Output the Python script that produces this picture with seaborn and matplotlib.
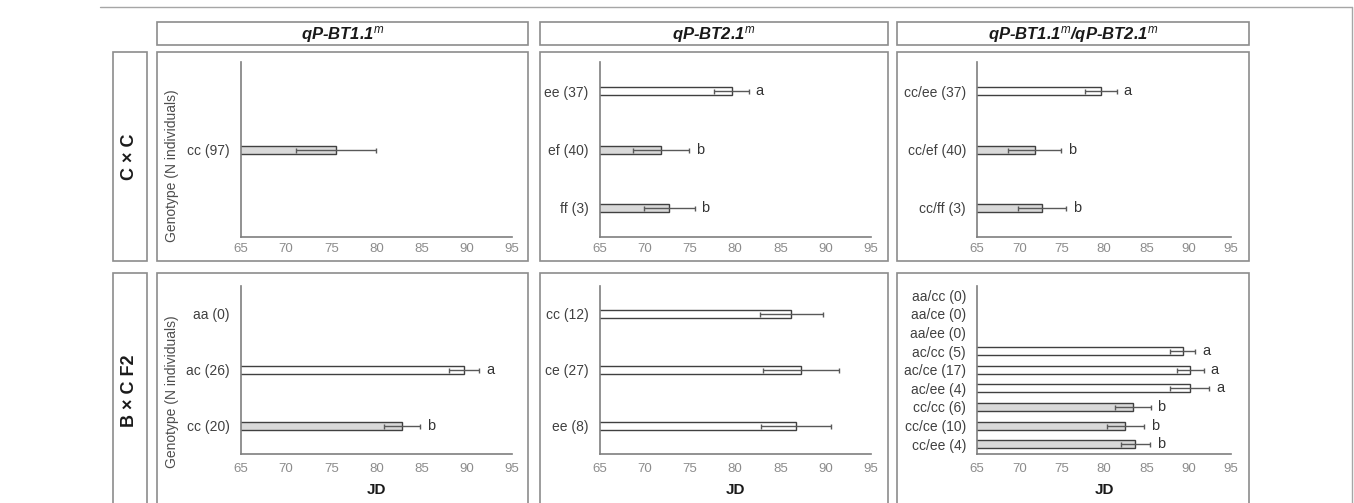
import matplotlib
matplotlib.use("Agg")
import matplotlib.pyplot as plt
import seaborn as sns
import pandas as pd
from matplotlib.patches import Rectangle

# ---- data (JD mean, error, significance letter); None = no individuals ----
cxc_bt1_labels = ["cc (97)"]
cxc_bt1_mean = [75.5]
cxc_bt1_err = [4.4]
cxc_bt1_letter = [""]

cxc_bt2_labels = ["ee (37)", "ef (40)", "ff (3)"]
cxc_bt2_mean = [79.6, 71.8, 72.7]
cxc_bt2_err = [1.9, 3.1, 2.8]
cxc_bt2_letter = ["a", "b", "b"]

cxc_both_labels = ["cc/ee (37)", "cc/ef (40)", "cc/ff (3)"]
cxc_both_mean = [79.6, 71.8, 72.7]
cxc_both_err = [1.9, 3.1, 2.8]
cxc_both_letter = ["a", "b", "b"]

bxc_bt1_labels = ["aa (0)", "ac (26)", "cc (20)"]
bxc_bt1_mean = [None, 89.7, 82.8]
bxc_bt1_err = [None, 1.7, 2.0]
bxc_bt1_letter = ["", "a", "b"]

bxc_bt2_labels = ["cc (12)", "ce (27)", "ee (8)"]
bxc_bt2_mean = [86.2, 87.3, 86.7]
bxc_bt2_err = [3.5, 4.2, 3.9]
bxc_bt2_letter = ["", "", ""]

bxc_both_labels = ["aa/cc (0)", "aa/ce (0)", "aa/ee (0)", "ac/cc (5)", "ac/ce (17)",
                   "ac/ee (4)", "cc/cc (6)", "cc/ce (10)", "cc/ee (4)"]
bxc_both_mean = [None, None, None, 89.3, 90.2, 90.1, 83.4, 82.5, 83.7]
bxc_both_err = [None, None, None, 1.5, 1.6, 2.3, 2.1, 2.2, 1.7]
bxc_both_letter = ["", "", "", "a", "a", "a", "b", "b", "b"]

col_titles = [r"qP-BT1.1$^{m}$", r"qP-BT2.1$^{m}$", r"qP-BT1.1$^{m}$/qP-BT2.1$^{m}$"]
row_titles = ["C × C", "B × C F2"]

# ---- style ----
W, H = 1354, 503
GRAY = "#d9d9d9"
EDGE = "#404040"
FRAME = "#8c8c8c"
shaded = {
    "cc (97)", "ef (40)", "ff (3)", "cc/ef (40)", "cc/ff (3)",
    "cc (20)", "cc/cc (6)", "cc/ce (10)", "cc/ee (4)",
}

sns.set_theme(style="white")
plt.rcParams["font.family"] = ["Liberation Sans", "DejaVu Sans"]
plt.rcParams["mathtext.fontset"] = "custom"
plt.rcParams["mathtext.it"] = "Liberation Sans:italic"
plt.rcParams["mathtext.rm"] = "Liberation Sans"
plt.rcParams["mathtext.bf"] = "Liberation Sans:bold"

fig = plt.figure(figsize=(W / 100, H / 100), dpi=100)
bg = fig.add_axes([0, 0, 1, 1])
bg.set_xlim(0, W)
bg.set_ylim(H, 0)
bg.axis("off")

# outer frame lines
bg.plot([100, 1352], [7, 7], color="#a6a6a6", lw=1)
bg.plot([1352, 1352], [7, H], color="#a6a6a6", lw=1)

col_x = [(157, 528), (540, 888), (897, 1249)]
row_y = [(52, 261), (273, 515)]

for (x0, x1), title in zip(col_x, col_titles):
    bg.add_patch(Rectangle((x0, 22), x1 - x0, 23, facecolor="white", edgecolor=FRAME, lw=1.2))
    bg.text((x0 + x1) / 2, 34, title, ha="center", va="center", fontsize=12,
            fontweight="bold", style="italic", color="#1a1a1a")

for (y0, y1), title in zip(row_y, row_titles):
    bg.add_patch(Rectangle((113, y0), 34, y1 - y0, facecolor="white", edgecolor=FRAME, lw=1.2))
    for x0, x1 in col_x:
        bg.add_patch(Rectangle((x0, y0), x1 - x0, y1 - y0, facecolor="white", edgecolor=FRAME, lw=1.2))
    yc = (y0 + min(y1, 508)) / 2
    bg.text(130, yc, title, ha="center", va="center", rotation=90, fontsize=13,
            fontweight="bold", color="#1a1a1a")

bg.text(172, 166, "Genotype (N individuals)", rotation=90, ha="center", va="center",
        fontsize=10, color="#4d4d4d")
bg.text(172, 392, "Genotype (N individuals)", rotation=90, ha="center", va="center",
        fontsize=10, color="#4d4d4d")

ax_x = [(241, 512), (599.5, 871), (977, 1231)]
ax_y = [(62, 237), (286, 453.5)]
for (x0, x1) in ax_x:
    bg.text((x0 + x1) / 2, 490, "JD", ha="center", va="center", fontsize=11,
            fontweight="bold", color="#1a1a1a")


def draw_panel(ax, labels, means, errs, letters, px_height, tick_pad):
    df = pd.DataFrame({"genotype": labels, "JD": means, "err": errs, "letter": letters})
    df["JD"] = pd.to_numeric(df["JD"])
    width = 8.0 / (px_height / len(labels))
    sns.barplot(data=df, x="JD", y="genotype", order=labels, color="white",
                width=width, edgecolor=EDGE, linewidth=1, errorbar=None,
                orient="h", ax=ax)
    present = df.dropna(subset=["JD"])
    for patch, g in zip(ax.patches, present["genotype"]):
        patch.set_facecolor(GRAY if g in shaded else "white")
    pos = {t.get_text(): i for i, t in enumerate(ax.get_yticklabels())}
    ys = [pos[g] for g in present["genotype"]]
    ax.errorbar(present["JD"], ys, xerr=present["err"].astype(float), fmt="none",
                ecolor="#595959", elinewidth=1, capsize=1.8, capthick=1, zorder=4)
    for m, e, y, t in zip(present["JD"], present["err"], ys, present["letter"]):
        if t:
            ax.annotate(t, (m + e, y), xytext=(5, 0), textcoords="offset points",
                        ha="left", va="center", fontsize=10.5, color="#333333")
    ax.set_xlim(65, 95)
    ax.set_ylim(len(labels) - 0.5, -0.5)
    ax.set_xticks(range(65, 96, 5))
    ax.set_xlabel("")
    ax.set_ylabel("")
    ax.set_facecolor("none")
    ax.tick_params(axis="x", length=0, labelsize=9.5, labelcolor="#8c8c8c", pad=tick_pad)
    ax.tick_params(axis="y", length=0, labelsize=10, labelcolor="#404040", pad=8)
    for side in ["top", "right"]:
        ax.spines[side].set_visible(False)
    for side in ["left", "bottom"]:
        ax.spines[side].set_color("#7f7f7f")
        ax.spines[side].set_linewidth(1.2)


panels = [
    [(cxc_bt1_labels, cxc_bt1_mean, cxc_bt1_err, cxc_bt1_letter),
     (cxc_bt2_labels, cxc_bt2_mean, cxc_bt2_err, cxc_bt2_letter),
     (cxc_both_labels, cxc_both_mean, cxc_both_err, cxc_both_letter)],
    [(bxc_bt1_labels, bxc_bt1_mean, bxc_bt1_err, bxc_bt1_letter),
     (bxc_bt2_labels, bxc_bt2_mean, bxc_bt2_err, bxc_bt2_letter),
     (bxc_both_labels, bxc_both_mean, bxc_both_err, bxc_both_letter)],
]

for r, (y0, y1) in enumerate(ax_y):
    for c, (x0, x1) in enumerate(ax_x):
        ax = fig.add_axes([x0 / W, 1 - y1 / H, (x1 - x0) / W, (y1 - y0) / H])
        labels, means, errs, letters = panels[r][c]
        draw_panel(ax, labels, means, errs, letters, y1 - y0, 4 if r == 0 else 7)

fig.savefig("out.png", dpi=100)
